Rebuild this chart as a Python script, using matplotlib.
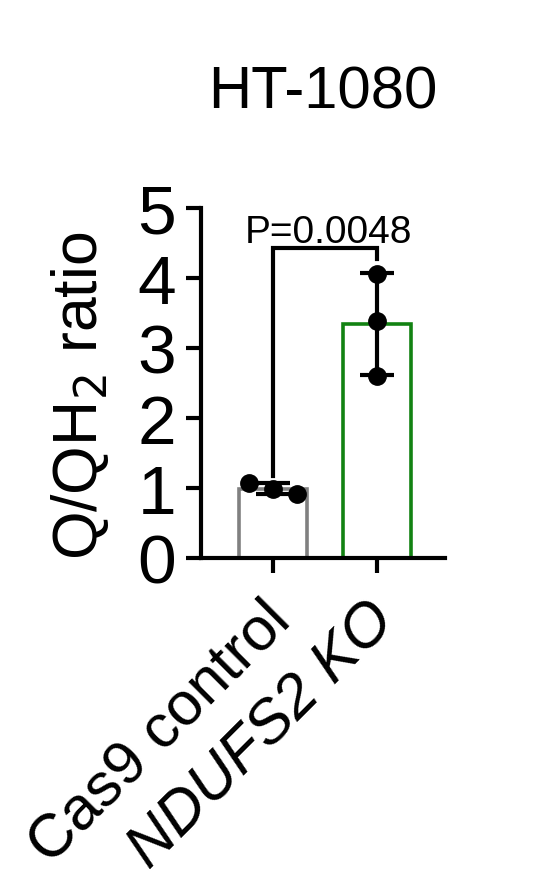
import numpy as np
import matplotlib
matplotlib.use("Agg")
import matplotlib.pyplot as plt
from matplotlib.transforms import ScaledTranslation

plt.rcParams['font.family'] = ['Liberation Sans', 'DejaVu Sans']

# data
groups = ["Cas9 control", "NDUFS2 KO"]
cas9_vals = [1.07, 0.98, 0.92]
ko_vals = [4.06, 3.38, 2.60]
p_text = "P=0.0048"
title = "HT-1080"

edge_colors = ["#808080", "#128212"]
label_styles = ["normal", "italic"]
jitter = [[-0.23, 0.0, 0.23], [0.0, 0.0, 0.0]]

fig = plt.figure(figsize=(5.35, 8.79), dpi=100)
ax = fig.add_axes([201 / 535, 1 - 559 / 879, 244 / 535, 350 / 879])

xpos = np.arange(len(groups))
series = [cas9_vals, ko_vals]
means = [np.mean(s) for s in series]
sds = [np.std(s, ddof=1) for s in series]

ax.bar(xpos, means, width=0.65, facecolor="white", edgecolor=edge_colors,
       linewidth=2.6, zorder=1)
for i, s in enumerate(series):
    ax.errorbar(xpos[i], means[i], yerr=sds[i], fmt="none", ecolor="black",
                elinewidth=3, capsize=12, capthick=3, zorder=3)
    ax.plot(xpos[i] + np.array(jitter[i]), s, "o", color="black", ms=12.5,
            zorder=4, clip_on=False)

# significance bracket
yb = 4.43
ax.plot([0, 0, 1, 1], [1.17, yb, yb, 4.27], color="black", lw=3, zorder=3,
        solid_joinstyle="miter")
ax.text(0.53, 4.51, p_text, ha="center", va="baseline", fontsize=28)

ax.set_xlim(-0.692, 1.654)
ax.set_ylim(0, 5)
ax.set_yticks([0, 1, 2, 3, 4, 5])
ax.set_xticks(xpos)
ax.set_xticklabels([])

# rotated group labels, anchored at the baseline end below each tick
off = ScaledTranslation(0.20, -0.64, fig.dpi_scale_trans)
for i, g in enumerate(groups):
    ax.text(xpos[i], 0, g, rotation=45, ha="right", va="baseline",
            rotation_mode="anchor", fontsize=44, style=label_styles[i],
            transform=ax.get_xaxis_transform() + off)

for side in ["top", "right"]:
    ax.spines[side].set_visible(False)
for side in ["left", "bottom"]:
    ax.spines[side].set_linewidth(3)
ax.tick_params(axis="both", width=3, length=11, pad=7)
ax.tick_params(axis="y", labelsize=50)

ax.text((80 - 201) / 244, 0.466, "Q/QH$_2$ ratio", rotation=90, ha="center",
        va="center", fontsize=45, transform=ax.transAxes)
ax.set_title(title, fontsize=43, pad=72)

fig.savefig("out.png", dpi=100)
